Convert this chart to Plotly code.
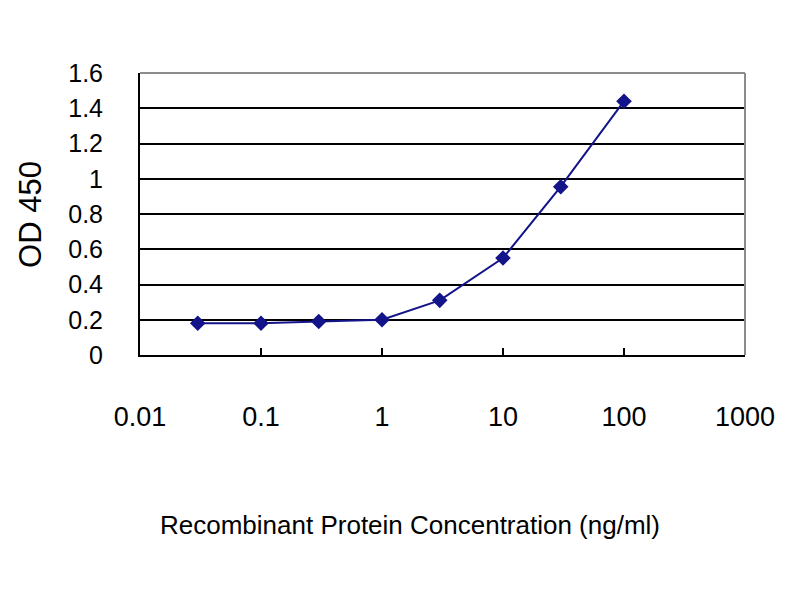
import plotly.graph_objects as go

# ELISA standard curve
conc = [0.03, 0.1, 0.3, 1, 3, 10, 30, 100]
od450 = [0.18, 0.18, 0.19, 0.20, 0.31, 0.55, 0.955, 1.44]

x_ticks = [0.01, 0.1, 1, 10, 100, 1000]
x_labels = ["0.01", "0.1", "1", "10", "100", "1000"]
y_ticks = [0, 0.2, 0.4, 0.6, 0.8, 1, 1.2, 1.4, 1.6]
y_labels = ["0", "0.2", "0.4", "0.6", "0.8", "1", "1.2", "1.4", "1.6"]

navy = "#14148a"
font_name = "Liberation Sans, Arial"

fig = go.Figure()
fig.add_trace(go.Scatter(
    x=conc, y=od450,
    mode="lines+markers",
    line=dict(color=navy, width=2),
    marker=dict(symbol="diamond", size=12, color=navy),
    showlegend=False,
))

fig.update_xaxes(
    type="log", range=[-2, 3],
    tickvals=x_ticks, ticktext=x_labels,
    showgrid=False, zeroline=False,
    showline=True, linecolor="black", linewidth=2,
    ticks="inside", ticklen=7, tickwidth=2, tickcolor="black",
    ticklabelstandoff=37,
    tickfont=dict(family=font_name, size=27, color="black"),
)
fig.update_yaxes(
    range=[0, 1.6],
    tickvals=y_ticks, ticktext=y_labels,
    showgrid=True, gridcolor="black", gridwidth=2,
    zeroline=False,
    showline=True, linecolor="black", linewidth=2,
    ticks="", ticklabelstandoff=30,
    tickfont=dict(family=font_name, size=25, color="black"),
)

# grey frame on top and right
fig.add_shape(type="line", xref="paper", yref="paper", x0=0, x1=1, y0=1, y1=1,
              line=dict(color="#8c8c8c", width=2))
fig.add_shape(type="line", xref="paper", yref="paper", x0=1, x1=1, y0=0, y1=1,
              line=dict(color="#8c8c8c", width=2))

fig.add_annotation(
    text="Recombinant Protein Concentration (ng/ml)",
    xref="paper", yref="paper", x=0.446, y=-0.603,
    xanchor="center", yanchor="middle",
    showarrow=False,
    font=dict(family=font_name, size=26, color="black"),
)
fig.add_annotation(
    text="OD 450",
    xref="paper", yref="paper", x=-0.182, y=0.5,
    xanchor="center", yanchor="middle",
    textangle=-90, showarrow=False,
    font=dict(family=font_name, size=31, color="black"),
)

fig.update_layout(
    width=800, height=600,
    margin=dict(l=132, r=63, t=65, b=253),
    paper_bgcolor="white", plot_bgcolor="white",
)

fig.write_html("out.html")
